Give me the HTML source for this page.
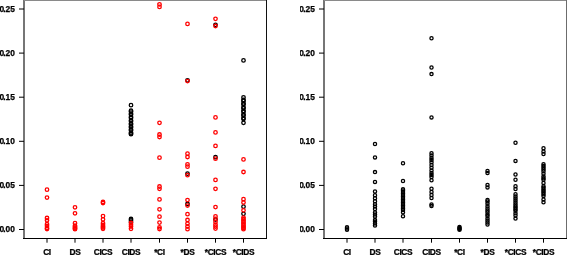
<!DOCTYPE html>
<html><head><meta charset="utf-8"><style>
html,body{margin:0;padding:0;background:#fff;width:567px;height:255px;overflow:hidden}
svg{display:block;will-change:transform}
text{font-family:"Liberation Sans",sans-serif;font-weight:bold;font-size:8.4px;fill:#000;stroke:#000;stroke-width:0.25px}
circle{fill:none;stroke-width:1.3}
</style></head><body>
<svg width="567" height="255" viewBox="0 0 567 255">
<rect x="23" y="0" width="2" height="239" fill="#767676"/>
<rect x="24" y="0" width="243" height="1" fill="#8a8a8a"/>
<rect x="266" y="0" width="1" height="239" fill="#111"/>
<rect x="23" y="238" width="244" height="1" fill="#000"/>
<line x1="19" y1="229.5" x2="24" y2="229.5" stroke="#000" stroke-width="1"/>
<text x="14.9" y="232.40" text-anchor="end">0<tspan dx="-0.8">.00</tspan></text>
<line x1="19" y1="185.4" x2="24" y2="185.4" stroke="#000" stroke-width="1"/>
<text x="14.9" y="188.30" text-anchor="end">0<tspan dx="-0.8">.05</tspan></text>
<line x1="19" y1="141.3" x2="24" y2="141.3" stroke="#000" stroke-width="1"/>
<text x="14.9" y="144.20" text-anchor="end">0<tspan dx="-0.8">.10</tspan></text>
<line x1="19" y1="97.2" x2="24" y2="97.2" stroke="#000" stroke-width="1"/>
<text x="14.9" y="100.10" text-anchor="end">0<tspan dx="-0.8">.15</tspan></text>
<line x1="19" y1="53.1" x2="24" y2="53.1" stroke="#000" stroke-width="1"/>
<text x="14.9" y="56.00" text-anchor="end">0<tspan dx="-0.8">.20</tspan></text>
<line x1="19" y1="9.0" x2="24" y2="9.0" stroke="#000" stroke-width="1"/>
<text x="14.9" y="11.90" text-anchor="end">0<tspan dx="-0.8">.25</tspan></text>
<rect x="267.5" y="0" width="32.5" height="255" fill="#fff"/>
<rect x="323" y="0" width="2" height="239" fill="#767676"/>
<rect x="324" y="0" width="243" height="1" fill="#8a8a8a"/>
<rect x="566" y="0" width="1" height="239" fill="#6c6c6c"/>
<rect x="323" y="238" width="244" height="1" fill="#000"/>
<line x1="319" y1="229.5" x2="324" y2="229.5" stroke="#000" stroke-width="1"/>
<text x="314.9" y="232.40" text-anchor="end">0<tspan dx="-0.8">.00</tspan></text>
<line x1="319" y1="185.4" x2="324" y2="185.4" stroke="#000" stroke-width="1"/>
<text x="314.9" y="188.30" text-anchor="end">0<tspan dx="-0.8">.05</tspan></text>
<line x1="319" y1="141.3" x2="324" y2="141.3" stroke="#000" stroke-width="1"/>
<text x="314.9" y="144.20" text-anchor="end">0<tspan dx="-0.8">.10</tspan></text>
<line x1="319" y1="97.2" x2="324" y2="97.2" stroke="#000" stroke-width="1"/>
<text x="314.9" y="100.10" text-anchor="end">0<tspan dx="-0.8">.15</tspan></text>
<line x1="319" y1="53.1" x2="324" y2="53.1" stroke="#000" stroke-width="1"/>
<text x="314.9" y="56.00" text-anchor="end">0<tspan dx="-0.8">.20</tspan></text>
<line x1="319" y1="9.0" x2="324" y2="9.0" stroke="#000" stroke-width="1"/>
<text x="314.9" y="11.90" text-anchor="end">0<tspan dx="-0.8">.25</tspan></text>
<rect x="267.5" y="0" width="32.5" height="255" fill="#fff"/>
<line x1="47.0" y1="238.5" x2="47.0" y2="242.7" stroke="#000" stroke-width="1"/>
<text x="47.0" y="254.6" text-anchor="middle" letter-spacing="-0.35">CI</text>
<line x1="75.0" y1="238.5" x2="75.0" y2="242.7" stroke="#000" stroke-width="1"/>
<text x="75.0" y="254.6" text-anchor="middle" letter-spacing="-0.35">DS</text>
<line x1="103.0" y1="238.5" x2="103.0" y2="242.7" stroke="#000" stroke-width="1"/>
<text x="103.0" y="254.6" text-anchor="middle" letter-spacing="-0.35">CICS</text>
<line x1="131.0" y1="238.5" x2="131.0" y2="242.7" stroke="#000" stroke-width="1"/>
<text x="131.0" y="254.6" text-anchor="middle" letter-spacing="-0.35">CIDS</text>
<line x1="159.5" y1="238.5" x2="159.5" y2="242.7" stroke="#000" stroke-width="1"/>
<text x="159.5" y="254.6" text-anchor="middle" letter-spacing="-0.35">*CI</text>
<line x1="187.5" y1="238.5" x2="187.5" y2="242.7" stroke="#000" stroke-width="1"/>
<text x="187.5" y="254.6" text-anchor="middle" letter-spacing="-0.35">*DS</text>
<line x1="215.5" y1="238.5" x2="215.5" y2="242.7" stroke="#000" stroke-width="1"/>
<text x="215.5" y="254.6" text-anchor="middle" letter-spacing="-0.35">*CICS</text>
<line x1="243.5" y1="238.5" x2="243.5" y2="242.7" stroke="#000" stroke-width="1"/>
<text x="243.5" y="254.6" text-anchor="middle" letter-spacing="-0.35">*CIDS</text>
<line x1="347.0" y1="238.5" x2="347.0" y2="242.7" stroke="#000" stroke-width="1"/>
<text x="347.0" y="254.6" text-anchor="middle" letter-spacing="-0.35">CI</text>
<line x1="375.0" y1="238.5" x2="375.0" y2="242.7" stroke="#000" stroke-width="1"/>
<text x="375.0" y="254.6" text-anchor="middle" letter-spacing="-0.35">DS</text>
<line x1="403.0" y1="238.5" x2="403.0" y2="242.7" stroke="#000" stroke-width="1"/>
<text x="403.0" y="254.6" text-anchor="middle" letter-spacing="-0.35">CICS</text>
<line x1="431.5" y1="238.5" x2="431.5" y2="242.7" stroke="#000" stroke-width="1"/>
<text x="431.5" y="254.6" text-anchor="middle" letter-spacing="-0.35">CIDS</text>
<line x1="459.5" y1="238.5" x2="459.5" y2="242.7" stroke="#000" stroke-width="1"/>
<text x="459.5" y="254.6" text-anchor="middle" letter-spacing="-0.35">*CI</text>
<line x1="487.5" y1="238.5" x2="487.5" y2="242.7" stroke="#000" stroke-width="1"/>
<text x="487.5" y="254.6" text-anchor="middle" letter-spacing="-0.35">*DS</text>
<line x1="515.5" y1="238.5" x2="515.5" y2="242.7" stroke="#000" stroke-width="1"/>
<text x="515.5" y="254.6" text-anchor="middle" letter-spacing="-0.35">*CICS</text>
<line x1="543.5" y1="238.5" x2="543.5" y2="242.7" stroke="#000" stroke-width="1"/>
<text x="543.5" y="254.6" text-anchor="middle" letter-spacing="-0.35">*CIDS</text>
<circle cx="47.0" cy="189.7" r="1.75" stroke="#ff0000"/>
<circle cx="47.0" cy="197.6" r="1.75" stroke="#ff0000"/>
<circle cx="47.0" cy="218.0" r="1.75" stroke="#ff0000"/>
<circle cx="47.0" cy="220.3" r="1.75" stroke="#ff0000"/>
<circle cx="47.0" cy="224.2" r="1.75" stroke="#ff0000"/>
<circle cx="47.0" cy="226.0" r="1.75" stroke="#ff0000"/>
<circle cx="47.0" cy="228.1" r="1.75" stroke="#ff0000"/>
<circle cx="47.0" cy="229.0" r="1.75" stroke="#ff0000"/>
<circle cx="75.0" cy="207.3" r="1.75" stroke="#ff0000"/>
<circle cx="75.0" cy="213.3" r="1.75" stroke="#ff0000"/>
<circle cx="75.0" cy="223.2" r="1.75" stroke="#ff0000"/>
<circle cx="75.0" cy="225.7" r="1.75" stroke="#ff0000"/>
<circle cx="75.0" cy="226.7" r="1.75" stroke="#ff0000"/>
<circle cx="75.0" cy="227.7" r="1.75" stroke="#ff0000"/>
<circle cx="75.0" cy="228.5" r="1.75" stroke="#ff0000"/>
<circle cx="75.0" cy="229.2" r="1.75" stroke="#ff0000"/>
<circle cx="103.0" cy="202.0" r="1.75" stroke="#ff0000"/>
<circle cx="103.0" cy="203.0" r="1.75" stroke="#ff0000"/>
<circle cx="103.0" cy="216.1" r="1.75" stroke="#ff0000"/>
<circle cx="103.0" cy="219.3" r="1.75" stroke="#ff0000"/>
<circle cx="103.0" cy="223.2" r="1.75" stroke="#ff0000"/>
<circle cx="103.0" cy="225.0" r="1.75" stroke="#ff0000"/>
<circle cx="103.0" cy="226.5" r="1.75" stroke="#ff0000"/>
<circle cx="103.0" cy="227.5" r="1.75" stroke="#ff0000"/>
<circle cx="103.0" cy="228.8" r="1.75" stroke="#ff0000"/>
<circle cx="131.0" cy="105.2" r="1.75" stroke="#000000"/>
<circle cx="131.0" cy="110.7" r="1.75" stroke="#000000"/>
<circle cx="131.0" cy="111.7" r="1.75" stroke="#000000"/>
<circle cx="131.0" cy="113.7" r="1.75" stroke="#000000"/>
<circle cx="131.0" cy="114.7" r="1.75" stroke="#000000"/>
<circle cx="131.0" cy="117.0" r="1.75" stroke="#000000"/>
<circle cx="131.0" cy="118.0" r="1.75" stroke="#000000"/>
<circle cx="131.0" cy="120.3" r="1.75" stroke="#000000"/>
<circle cx="131.0" cy="121.3" r="1.75" stroke="#000000"/>
<circle cx="131.0" cy="123.4" r="1.75" stroke="#000000"/>
<circle cx="131.0" cy="124.4" r="1.75" stroke="#000000"/>
<circle cx="131.0" cy="126.4" r="1.75" stroke="#000000"/>
<circle cx="131.0" cy="127.4" r="1.75" stroke="#000000"/>
<circle cx="131.0" cy="129.4" r="1.75" stroke="#000000"/>
<circle cx="131.0" cy="130.4" r="1.75" stroke="#000000"/>
<circle cx="131.0" cy="132.6" r="1.75" stroke="#000000"/>
<circle cx="131.0" cy="133.6" r="1.75" stroke="#000000"/>
<circle cx="131.0" cy="134.2" r="1.75" stroke="#000000"/>
<circle cx="131.0" cy="219.0" r="1.75" stroke="#000000"/>
<circle cx="131.0" cy="220.3" r="1.75" stroke="#000000"/>
<circle cx="131.0" cy="222.0" r="1.75" stroke="#000000"/>
<circle cx="131.0" cy="223.0" r="1.75" stroke="#ff0000"/>
<circle cx="131.0" cy="224.8" r="1.75" stroke="#ff0000"/>
<circle cx="131.0" cy="226.5" r="1.75" stroke="#ff0000"/>
<circle cx="131.0" cy="228.8" r="1.75" stroke="#ff0000"/>
<circle cx="159.5" cy="4.3" r="1.75" stroke="#ff0000"/>
<circle cx="159.5" cy="6.9" r="1.75" stroke="#ff0000"/>
<circle cx="159.5" cy="122.8" r="1.75" stroke="#ff0000"/>
<circle cx="159.5" cy="134.5" r="1.75" stroke="#ff0000"/>
<circle cx="159.5" cy="137.0" r="1.75" stroke="#ff0000"/>
<circle cx="159.5" cy="157.7" r="1.75" stroke="#ff0000"/>
<circle cx="159.5" cy="186.5" r="1.75" stroke="#ff0000"/>
<circle cx="159.5" cy="188.8" r="1.75" stroke="#ff0000"/>
<circle cx="159.5" cy="199.4" r="1.75" stroke="#ff0000"/>
<circle cx="159.5" cy="209.3" r="1.75" stroke="#ff0000"/>
<circle cx="159.5" cy="216.7" r="1.75" stroke="#ff0000"/>
<circle cx="159.5" cy="222.6" r="1.75" stroke="#ff0000"/>
<circle cx="159.5" cy="227.3" r="1.75" stroke="#ff0000"/>
<circle cx="159.5" cy="229.0" r="1.75" stroke="#ff0000"/>
<circle cx="187.5" cy="80.3" r="1.75" stroke="#000000"/>
<circle cx="187.5" cy="173.7" r="1.75" stroke="#000000"/>
<circle cx="187.5" cy="204.0" r="1.75" stroke="#000000"/>
<circle cx="187.5" cy="23.9" r="1.75" stroke="#ff0000"/>
<circle cx="187.5" cy="81.1" r="1.75" stroke="#ff0000"/>
<circle cx="187.5" cy="153.7" r="1.75" stroke="#ff0000"/>
<circle cx="187.5" cy="157.0" r="1.75" stroke="#ff0000"/>
<circle cx="187.5" cy="164.3" r="1.75" stroke="#ff0000"/>
<circle cx="187.5" cy="166.7" r="1.75" stroke="#ff0000"/>
<circle cx="187.5" cy="175.2" r="1.75" stroke="#ff0000"/>
<circle cx="187.5" cy="200.1" r="1.75" stroke="#ff0000"/>
<circle cx="187.5" cy="205.6" r="1.75" stroke="#ff0000"/>
<circle cx="187.5" cy="214.2" r="1.75" stroke="#ff0000"/>
<circle cx="187.5" cy="220.0" r="1.75" stroke="#ff0000"/>
<circle cx="187.5" cy="223.6" r="1.75" stroke="#ff0000"/>
<circle cx="187.5" cy="226.5" r="1.75" stroke="#ff0000"/>
<circle cx="187.5" cy="229.2" r="1.75" stroke="#ff0000"/>
<circle cx="215.5" cy="24.8" r="1.75" stroke="#000000"/>
<circle cx="215.5" cy="157.2" r="1.75" stroke="#000000"/>
<circle cx="215.5" cy="219.6" r="1.75" stroke="#000000"/>
<circle cx="215.5" cy="18.8" r="1.75" stroke="#ff0000"/>
<circle cx="215.5" cy="26.0" r="1.75" stroke="#ff0000"/>
<circle cx="215.5" cy="117.4" r="1.75" stroke="#ff0000"/>
<circle cx="215.5" cy="132.4" r="1.75" stroke="#ff0000"/>
<circle cx="215.5" cy="145.9" r="1.75" stroke="#ff0000"/>
<circle cx="215.5" cy="158.7" r="1.75" stroke="#ff0000"/>
<circle cx="215.5" cy="179.9" r="1.75" stroke="#ff0000"/>
<circle cx="215.5" cy="188.8" r="1.75" stroke="#ff0000"/>
<circle cx="215.5" cy="207.1" r="1.75" stroke="#ff0000"/>
<circle cx="215.5" cy="216.3" r="1.75" stroke="#ff0000"/>
<circle cx="215.5" cy="218.8" r="1.75" stroke="#ff0000"/>
<circle cx="215.5" cy="222.0" r="1.75" stroke="#ff0000"/>
<circle cx="215.5" cy="224.7" r="1.75" stroke="#ff0000"/>
<circle cx="215.5" cy="226.6" r="1.75" stroke="#ff0000"/>
<circle cx="215.5" cy="228.6" r="1.75" stroke="#ff0000"/>
<circle cx="243.5" cy="60.4" r="1.75" stroke="#000000"/>
<circle cx="243.5" cy="97.3" r="1.75" stroke="#000000"/>
<circle cx="243.5" cy="99.9" r="1.75" stroke="#000000"/>
<circle cx="243.5" cy="100.9" r="1.75" stroke="#000000"/>
<circle cx="243.5" cy="103.5" r="1.75" stroke="#000000"/>
<circle cx="243.5" cy="104.5" r="1.75" stroke="#000000"/>
<circle cx="243.5" cy="107.3" r="1.75" stroke="#000000"/>
<circle cx="243.5" cy="108.3" r="1.75" stroke="#000000"/>
<circle cx="243.5" cy="110.8" r="1.75" stroke="#000000"/>
<circle cx="243.5" cy="111.8" r="1.75" stroke="#000000"/>
<circle cx="243.5" cy="114.5" r="1.75" stroke="#000000"/>
<circle cx="243.5" cy="115.5" r="1.75" stroke="#000000"/>
<circle cx="243.5" cy="118.1" r="1.75" stroke="#000000"/>
<circle cx="243.5" cy="119.1" r="1.75" stroke="#000000"/>
<circle cx="243.5" cy="122.8" r="1.75" stroke="#000000"/>
<circle cx="243.5" cy="206.7" r="1.75" stroke="#000000"/>
<circle cx="243.5" cy="213.8" r="1.75" stroke="#000000"/>
<circle cx="243.5" cy="159.4" r="1.75" stroke="#ff0000"/>
<circle cx="243.5" cy="172.0" r="1.75" stroke="#ff0000"/>
<circle cx="243.5" cy="199.2" r="1.75" stroke="#ff0000"/>
<circle cx="243.5" cy="202.5" r="1.75" stroke="#ff0000"/>
<circle cx="243.5" cy="210.3" r="1.75" stroke="#ff0000"/>
<circle cx="243.5" cy="217.6" r="1.75" stroke="#ff0000"/>
<circle cx="243.5" cy="219.2" r="1.75" stroke="#ff0000"/>
<circle cx="243.5" cy="220.7" r="1.75" stroke="#ff0000"/>
<circle cx="243.5" cy="222.2" r="1.75" stroke="#ff0000"/>
<circle cx="243.5" cy="223.7" r="1.75" stroke="#ff0000"/>
<circle cx="243.5" cy="225.2" r="1.75" stroke="#ff0000"/>
<circle cx="243.5" cy="226.7" r="1.75" stroke="#ff0000"/>
<circle cx="243.5" cy="228.0" r="1.75" stroke="#ff0000"/>
<circle cx="243.5" cy="229.2" r="1.75" stroke="#ff0000"/>
<circle cx="347.0" cy="227.2" r="1.6" stroke="#000" stroke-width="1.15"/>
<circle cx="347.0" cy="228.5" r="1.6" stroke="#000" stroke-width="1.15"/>
<circle cx="347.0" cy="229.7" r="1.6" stroke="#000" stroke-width="1.15"/>
<circle cx="375.0" cy="144.0" r="1.6" stroke="#000" stroke-width="1.15"/>
<circle cx="375.0" cy="157.4" r="1.6" stroke="#000" stroke-width="1.15"/>
<circle cx="375.0" cy="172.1" r="1.6" stroke="#000" stroke-width="1.15"/>
<circle cx="375.0" cy="181.9" r="1.6" stroke="#000" stroke-width="1.15"/>
<circle cx="375.0" cy="191.5" r="1.6" stroke="#000" stroke-width="1.15"/>
<circle cx="375.0" cy="195.3" r="1.6" stroke="#000" stroke-width="1.15"/>
<circle cx="375.0" cy="198.2" r="1.6" stroke="#000" stroke-width="1.15"/>
<circle cx="375.0" cy="201.2" r="1.6" stroke="#000" stroke-width="1.15"/>
<circle cx="375.0" cy="204.2" r="1.6" stroke="#000" stroke-width="1.15"/>
<circle cx="375.0" cy="206.6" r="1.6" stroke="#000" stroke-width="1.15"/>
<circle cx="375.0" cy="209.0" r="1.6" stroke="#000" stroke-width="1.15"/>
<circle cx="375.0" cy="212.4" r="1.6" stroke="#000" stroke-width="1.15"/>
<circle cx="375.0" cy="214.5" r="1.6" stroke="#000" stroke-width="1.15"/>
<circle cx="375.0" cy="216.5" r="1.6" stroke="#000" stroke-width="1.15"/>
<circle cx="375.0" cy="219.9" r="1.6" stroke="#000" stroke-width="1.15"/>
<circle cx="375.0" cy="221.6" r="1.6" stroke="#000" stroke-width="1.15"/>
<circle cx="375.0" cy="223.4" r="1.6" stroke="#000" stroke-width="1.15"/>
<circle cx="375.0" cy="225.5" r="1.6" stroke="#000" stroke-width="1.15"/>
<circle cx="403.0" cy="163.2" r="1.6" stroke="#000" stroke-width="1.15"/>
<circle cx="403.0" cy="181.0" r="1.6" stroke="#000" stroke-width="1.15"/>
<circle cx="403.0" cy="189.2" r="1.6" stroke="#000" stroke-width="1.15"/>
<circle cx="403.0" cy="190.5" r="1.6" stroke="#000" stroke-width="1.15"/>
<circle cx="403.0" cy="192.0" r="1.6" stroke="#000" stroke-width="1.15"/>
<circle cx="403.0" cy="193.5" r="1.6" stroke="#000" stroke-width="1.15"/>
<circle cx="403.0" cy="195.0" r="1.6" stroke="#000" stroke-width="1.15"/>
<circle cx="403.0" cy="196.5" r="1.6" stroke="#000" stroke-width="1.15"/>
<circle cx="403.0" cy="198.0" r="1.6" stroke="#000" stroke-width="1.15"/>
<circle cx="403.0" cy="199.5" r="1.6" stroke="#000" stroke-width="1.15"/>
<circle cx="403.0" cy="201.0" r="1.6" stroke="#000" stroke-width="1.15"/>
<circle cx="403.0" cy="202.5" r="1.6" stroke="#000" stroke-width="1.15"/>
<circle cx="403.0" cy="204.0" r="1.6" stroke="#000" stroke-width="1.15"/>
<circle cx="403.0" cy="205.5" r="1.6" stroke="#000" stroke-width="1.15"/>
<circle cx="403.0" cy="207.0" r="1.6" stroke="#000" stroke-width="1.15"/>
<circle cx="403.0" cy="208.5" r="1.6" stroke="#000" stroke-width="1.15"/>
<circle cx="403.0" cy="210.0" r="1.6" stroke="#000" stroke-width="1.15"/>
<circle cx="403.0" cy="212.3" r="1.6" stroke="#000" stroke-width="1.15"/>
<circle cx="403.0" cy="216.3" r="1.6" stroke="#000" stroke-width="1.15"/>
<circle cx="431.5" cy="38.2" r="1.6" stroke="#000" stroke-width="1.15"/>
<circle cx="431.5" cy="67.5" r="1.6" stroke="#000" stroke-width="1.15"/>
<circle cx="431.5" cy="74.1" r="1.6" stroke="#000" stroke-width="1.15"/>
<circle cx="431.5" cy="117.4" r="1.6" stroke="#000" stroke-width="1.15"/>
<circle cx="431.5" cy="153.2" r="1.6" stroke="#000" stroke-width="1.15"/>
<circle cx="431.5" cy="155.6" r="1.6" stroke="#000" stroke-width="1.15"/>
<circle cx="431.5" cy="157.9" r="1.6" stroke="#000" stroke-width="1.15"/>
<circle cx="431.5" cy="160.0" r="1.6" stroke="#000" stroke-width="1.15"/>
<circle cx="431.5" cy="162.2" r="1.6" stroke="#000" stroke-width="1.15"/>
<circle cx="431.5" cy="165.0" r="1.6" stroke="#000" stroke-width="1.15"/>
<circle cx="431.5" cy="167.8" r="1.6" stroke="#000" stroke-width="1.15"/>
<circle cx="431.5" cy="170.5" r="1.6" stroke="#000" stroke-width="1.15"/>
<circle cx="431.5" cy="173.1" r="1.6" stroke="#000" stroke-width="1.15"/>
<circle cx="431.5" cy="175.0" r="1.6" stroke="#000" stroke-width="1.15"/>
<circle cx="431.5" cy="177.0" r="1.6" stroke="#000" stroke-width="1.15"/>
<circle cx="431.5" cy="180.3" r="1.6" stroke="#000" stroke-width="1.15"/>
<circle cx="431.5" cy="188.8" r="1.6" stroke="#000" stroke-width="1.15"/>
<circle cx="431.5" cy="191.9" r="1.6" stroke="#000" stroke-width="1.15"/>
<circle cx="431.5" cy="195.0" r="1.6" stroke="#000" stroke-width="1.15"/>
<circle cx="431.5" cy="198.0" r="1.6" stroke="#000" stroke-width="1.15"/>
<circle cx="431.5" cy="204.5" r="1.6" stroke="#000" stroke-width="1.15"/>
<circle cx="431.5" cy="206.0" r="1.6" stroke="#000" stroke-width="1.15"/>
<circle cx="459.5" cy="227.0" r="1.6" stroke="#000" stroke-width="1.15"/>
<circle cx="459.5" cy="228.0" r="1.6" stroke="#000" stroke-width="1.15"/>
<circle cx="459.5" cy="229.0" r="1.6" stroke="#000" stroke-width="1.15"/>
<circle cx="459.5" cy="229.7" r="1.6" stroke="#000" stroke-width="1.15"/>
<circle cx="487.5" cy="170.9" r="1.6" stroke="#000" stroke-width="1.15"/>
<circle cx="487.5" cy="173.1" r="1.6" stroke="#000" stroke-width="1.15"/>
<circle cx="487.5" cy="185.0" r="1.6" stroke="#000" stroke-width="1.15"/>
<circle cx="487.5" cy="187.4" r="1.6" stroke="#000" stroke-width="1.15"/>
<circle cx="487.5" cy="200.0" r="1.6" stroke="#000" stroke-width="1.15"/>
<circle cx="487.5" cy="201.5" r="1.6" stroke="#000" stroke-width="1.15"/>
<circle cx="487.5" cy="203.8" r="1.6" stroke="#000" stroke-width="1.15"/>
<circle cx="487.5" cy="206.3" r="1.6" stroke="#000" stroke-width="1.15"/>
<circle cx="487.5" cy="208.5" r="1.6" stroke="#000" stroke-width="1.15"/>
<circle cx="487.5" cy="210.5" r="1.6" stroke="#000" stroke-width="1.15"/>
<circle cx="487.5" cy="212.3" r="1.6" stroke="#000" stroke-width="1.15"/>
<circle cx="487.5" cy="214.4" r="1.6" stroke="#000" stroke-width="1.15"/>
<circle cx="487.5" cy="216.0" r="1.6" stroke="#000" stroke-width="1.15"/>
<circle cx="487.5" cy="218.5" r="1.6" stroke="#000" stroke-width="1.15"/>
<circle cx="487.5" cy="220.6" r="1.6" stroke="#000" stroke-width="1.15"/>
<circle cx="487.5" cy="222.5" r="1.6" stroke="#000" stroke-width="1.15"/>
<circle cx="487.5" cy="224.5" r="1.6" stroke="#000" stroke-width="1.15"/>
<circle cx="515.5" cy="142.8" r="1.6" stroke="#000" stroke-width="1.15"/>
<circle cx="515.5" cy="160.9" r="1.6" stroke="#000" stroke-width="1.15"/>
<circle cx="515.5" cy="174.5" r="1.6" stroke="#000" stroke-width="1.15"/>
<circle cx="515.5" cy="179.8" r="1.6" stroke="#000" stroke-width="1.15"/>
<circle cx="515.5" cy="186.3" r="1.6" stroke="#000" stroke-width="1.15"/>
<circle cx="515.5" cy="189.0" r="1.6" stroke="#000" stroke-width="1.15"/>
<circle cx="515.5" cy="194.3" r="1.6" stroke="#000" stroke-width="1.15"/>
<circle cx="515.5" cy="196.5" r="1.6" stroke="#000" stroke-width="1.15"/>
<circle cx="515.5" cy="198.6" r="1.6" stroke="#000" stroke-width="1.15"/>
<circle cx="515.5" cy="200.6" r="1.6" stroke="#000" stroke-width="1.15"/>
<circle cx="515.5" cy="202.6" r="1.6" stroke="#000" stroke-width="1.15"/>
<circle cx="515.5" cy="204.5" r="1.6" stroke="#000" stroke-width="1.15"/>
<circle cx="515.5" cy="206.2" r="1.6" stroke="#000" stroke-width="1.15"/>
<circle cx="515.5" cy="207.8" r="1.6" stroke="#000" stroke-width="1.15"/>
<circle cx="515.5" cy="209.2" r="1.6" stroke="#000" stroke-width="1.15"/>
<circle cx="515.5" cy="210.7" r="1.6" stroke="#000" stroke-width="1.15"/>
<circle cx="515.5" cy="213.2" r="1.6" stroke="#000" stroke-width="1.15"/>
<circle cx="515.5" cy="215.5" r="1.6" stroke="#000" stroke-width="1.15"/>
<circle cx="515.5" cy="218.6" r="1.6" stroke="#000" stroke-width="1.15"/>
<circle cx="543.5" cy="148.3" r="1.6" stroke="#000" stroke-width="1.15"/>
<circle cx="543.5" cy="151.5" r="1.6" stroke="#000" stroke-width="1.15"/>
<circle cx="543.5" cy="154.0" r="1.6" stroke="#000" stroke-width="1.15"/>
<circle cx="543.5" cy="164.3" r="1.6" stroke="#000" stroke-width="1.15"/>
<circle cx="543.5" cy="166.0" r="1.6" stroke="#000" stroke-width="1.15"/>
<circle cx="543.5" cy="167.8" r="1.6" stroke="#000" stroke-width="1.15"/>
<circle cx="543.5" cy="169.5" r="1.6" stroke="#000" stroke-width="1.15"/>
<circle cx="543.5" cy="171.2" r="1.6" stroke="#000" stroke-width="1.15"/>
<circle cx="543.5" cy="173.8" r="1.6" stroke="#000" stroke-width="1.15"/>
<circle cx="543.5" cy="176.4" r="1.6" stroke="#000" stroke-width="1.15"/>
<circle cx="543.5" cy="178.2" r="1.6" stroke="#000" stroke-width="1.15"/>
<circle cx="543.5" cy="179.8" r="1.6" stroke="#000" stroke-width="1.15"/>
<circle cx="543.5" cy="182.9" r="1.6" stroke="#000" stroke-width="1.15"/>
<circle cx="543.5" cy="186.2" r="1.6" stroke="#000" stroke-width="1.15"/>
<circle cx="543.5" cy="187.8" r="1.6" stroke="#000" stroke-width="1.15"/>
<circle cx="543.5" cy="189.4" r="1.6" stroke="#000" stroke-width="1.15"/>
<circle cx="543.5" cy="191.0" r="1.6" stroke="#000" stroke-width="1.15"/>
<circle cx="543.5" cy="192.6" r="1.6" stroke="#000" stroke-width="1.15"/>
<circle cx="543.5" cy="194.3" r="1.6" stroke="#000" stroke-width="1.15"/>
<circle cx="543.5" cy="196.1" r="1.6" stroke="#000" stroke-width="1.15"/>
<circle cx="543.5" cy="199.4" r="1.6" stroke="#000" stroke-width="1.15"/>
<circle cx="543.5" cy="202.2" r="1.6" stroke="#000" stroke-width="1.15"/>
</svg>
</body></html>
